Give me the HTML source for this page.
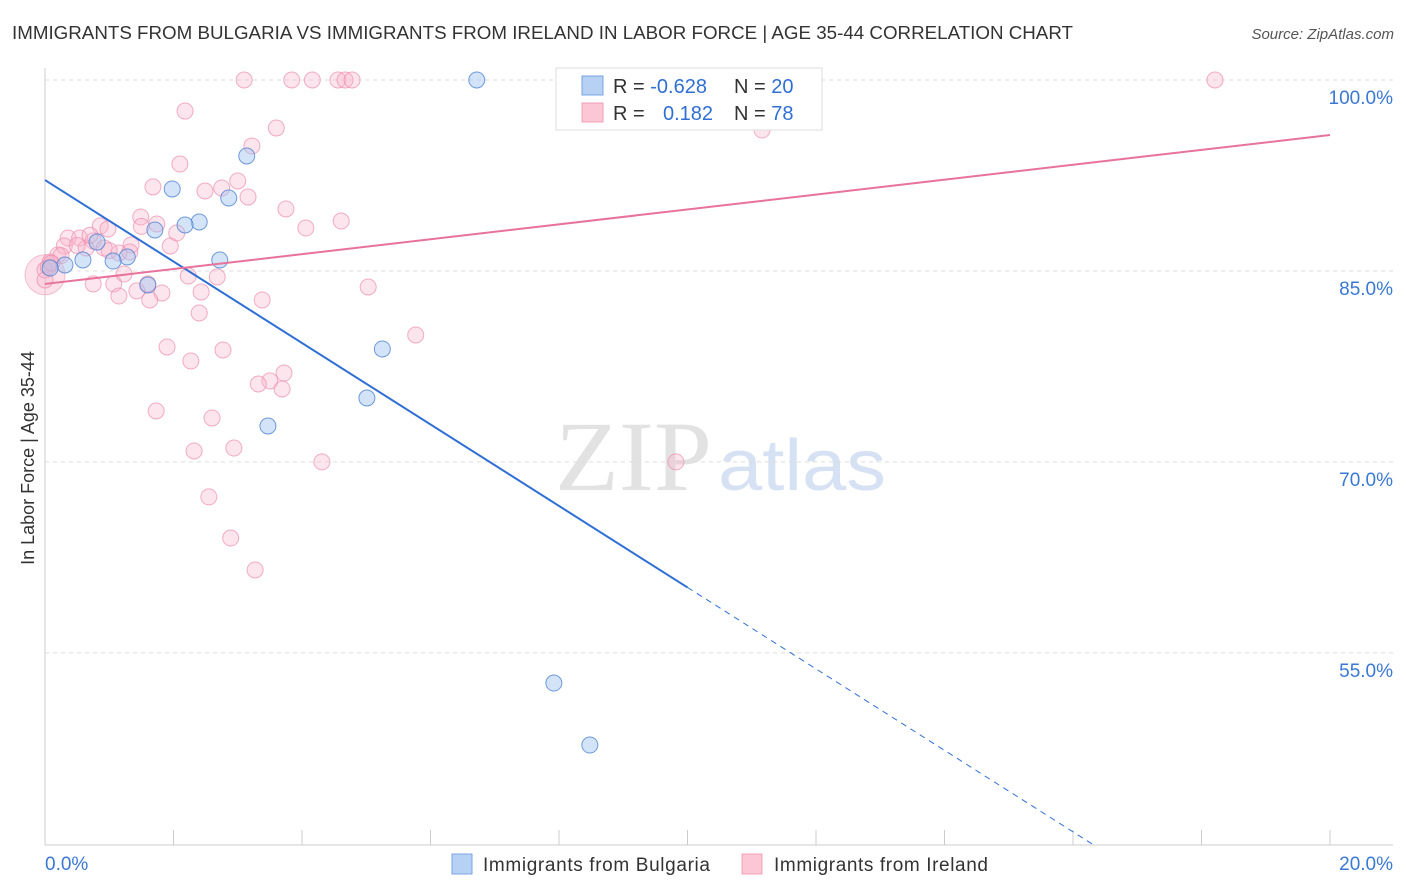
<!DOCTYPE html>
<html><head><meta charset="utf-8"><style>
body{margin:0;background:#fff;font-family:"Liberation Sans",sans-serif;}
svg{display:block}
</style></head><body>
<svg id="c" width="1406" height="892">
<text x="12" y="39" font-size="18" fill="#333" textLength="1061" lengthAdjust="spacingAndGlyphs">IMMIGRANTS FROM BULGARIA VS IMMIGRANTS FROM IRELAND IN LABOR FORCE | AGE 35-44 CORRELATION CHART</text>
<text x="1394" y="39" font-size="15" fill="#555" font-style="italic" text-anchor="end">Source: ZipAtlas.com</text>
<text x="34" y="458" font-size="18" fill="#333" transform="rotate(-90 34 458)" text-anchor="middle">In Labor Force | Age 35-44</text>
<text x="555" y="490" font-size="100" fill="#e2e2e2" textLength="157" lengthAdjust="spacingAndGlyphs" font-family="Liberation Serif, serif">ZIP</text>
<text x="718" y="490" font-size="72" fill="#d6e2f3" textLength="168" lengthAdjust="spacingAndGlyphs">atlas</text>
<g id="grid"></g><g id="pts"></g><g id="lines"></g>
<g>
<rect x="556" y="68" width="266" height="62" fill="#fff" stroke="#ddd"/>
<rect x="582" y="76" width="21" height="19" fill="#b7d1f5" stroke="#7aa4e0"/>
<rect x="582" y="103" width="21" height="19" fill="#fbc6d6" stroke="#f0a0b8"/>
<text x="613" y="93" font-size="20" fill="#333">R = <tspan fill="#2f6fd4">-0.628</tspan></text>
<text x="734" y="93" font-size="20" fill="#333">N = <tspan fill="#2f6fd4">20</tspan></text>
<text x="613" y="120" font-size="20" fill="#333">R = </text>
<text x="663" y="120" font-size="20" fill="#2f6fd4">0.182</text>
<text x="734" y="120" font-size="20" fill="#333">N = <tspan fill="#2f6fd4">78</tspan></text>
</g>
<g>
<rect x="452" y="854" width="20" height="20" fill="#b7d1f5" stroke="#7aa4e0"/>
<text x="483" y="871" font-size="19" fill="#333" textLength="227">Immigrants from Bulgaria</text>
<rect x="742" y="854" width="20" height="20" fill="#fbc6d6" stroke="#f0a0b8"/>
<text x="774" y="871" font-size="19" fill="#333" textLength="214">Immigrants from Ireland</text>
</g>
</svg>
<script>
const xTicks=[0,2,4,6,8,10,12,14,16,18,20];
const yTicks=[100,85,70,55];
const yTickLabels=["100.0%","85.0%","70.0%","55.0%"];
const bulgariaX=[6.72,3.14,1.98,2.86,2.40,2.18,1.71,0.81,1.28,1.06,0.59,0.31,0.08,2.72,1.60,5.25,5.01,3.47,7.92,8.48];
const bulgariaY=[100,94.03,91.44,90.73,88.85,88.61,88.22,87.27,86.10,85.78,85.86,85.47,85.23,85.86,83.90,78.87,75.02,72.82,52.63,47.76];
const irelandX=[3.10,3.84,4.16,4.56,4.67,4.78,8.25,18.21,2.18,3.60,3.22,11.16,2.10,1.68,3.00,2.49,2.75,3.16,3.75,1.49,4.61,4.06,1.74,2.05,0.86,0.98,0.36,0.54,0.75,1.34,1.95,0.30,0.64,0.92,1.15,1.32,0.20,0.08,0,0,1.23,2.23,2.68,0.75,1.07,1.60,1.43,1.82,2.43,1.15,1.63,3.38,5.03,2.40,5.77,1.90,2.77,2.27,3.72,3.50,3.32,3.69,1.73,2.60,2.32,2.94,4.31,9.82,2.55,2.89,3.27,0.05,0.5,1.0,1.5,0.25,0.1,0.7];
const irelandY=[100,100,100,100,100,100,100,100,97.56,96.23,94.82,96.07,93.40,91.60,92.07,91.28,91.52,90.81,89.87,89.24,88.92,88.37,88.69,87.98,88.53,88.30,87.59,87.59,87.35,87.04,86.96,86.96,86.80,86.80,86.41,86.49,86.25,85.70,85.08,84.29,84.76,84.60,84.53,83.98,83.98,83.98,83.43,83.27,83.35,83.03,82.72,82.72,83.74,81.70,79.97,79.03,78.79,77.93,76.98,76.36,76.12,75.73,74.00,73.45,70.86,71.09,70.00,70.00,67.25,64.02,61.51,85.3,87.0,86.6,88.5,86.2,85.6,87.8];
const blueFit=[92.14,-3.2]; const pinkFit=[83.98,0.585];
const X0=45,X1=1330,Y0=80,PX=12.73;
const sx=v=>X0+(v/20)*(X1-X0), sy=v=>Y0+(100-v)*PX;
const NS="http://www.w3.org/2000/svg";
function mk(p,t,a){const e=document.createElementNS(NS,t);for(const k in a)e.setAttribute(k,a[k]);p.appendChild(e);return e;}
const svg=document.getElementById('c'),g=document.getElementById('grid'),pg=document.getElementById('pts'),lg=document.getElementById('lines');
let ax=mk(g,'line',{x1:45,y1:68,x2:45,y2:845,stroke:'#ccc'});


let bx=mk(g,'line',{x1:45,y1:845,x2:1393,y2:845,stroke:'#ccc'});


yTicks.forEach((v,i)=>{
 const l=mk(g,'line',{x1:45,x2:1393,y1:sy(v),y2:sy(v),stroke:'#ddd','stroke-dasharray':'4 4'});
 
 
 const t=mk(g,'text',{x:1393,y:sy(v)+24,'font-size':19,fill:'#3a78d4','text-anchor':'end'});t.textContent=yTickLabels[i];
 
 
});
xTicks.forEach(v=>{
 const l=mk(g,'line',{x1:sx(v),x2:sx(v),y1:830,y2:845,stroke:'#ccc'});
 
 
});
let t0=mk(g,'text',{x:45,y:870,'font-size':19,fill:'#3a78d4'});t0.textContent='0.0%';


let t1=mk(g,'text',{x:1393,y:870,'font-size':19,fill:'#3a78d4','text-anchor':'end'});t1.textContent='20.0%';


let big=mk(pg,'circle',{cx:sx(0),cy:sy(84.7),r:20,fill:'rgba(246,170,195,0.35)',stroke:'rgba(235,140,170,0.5)'});


irelandX.forEach((x,i)=>{const c=mk(pg,'circle',{cx:sx(x),cy:sy(irelandY[i]),r:8,fill:'rgba(248,180,202,0.35)',stroke:'rgba(236,140,172,0.7)'});
 
 });
bulgariaX.forEach((x,i)=>{const c=mk(pg,'circle',{cx:sx(x),cy:sy(bulgariaY[i]),r:8,fill:'rgba(160,195,240,0.45)',stroke:'rgba(80,130,210,0.8)'});
 
 });
const bf=x=>blueFit[0]+blueFit[1]*x, pf=x=>pinkFit[0]+pinkFit[1]*x;
const xEnd=(blueFit[0]-40)/-blueFit[1];
let b1=mk(lg,'line',{x1:sx(0),y1:sy(bf(0)),x2:sx(10),y2:sy(bf(10)),stroke:'#2f6fd4','stroke-width':2});


let b2=mk(lg,'line',{x1:sx(10),y1:sy(bf(10)),x2:sx(xEnd),y2:sy(bf(xEnd)),stroke:'#2f6fd4','stroke-width':1,'stroke-dasharray':'6 5'});


let p1=mk(lg,'line',{x1:sx(0),y1:sy(pf(0)),x2:sx(20),y2:sy(pf(20)),stroke:'#e8729a','stroke-width':2});


</script>
</body></html>
